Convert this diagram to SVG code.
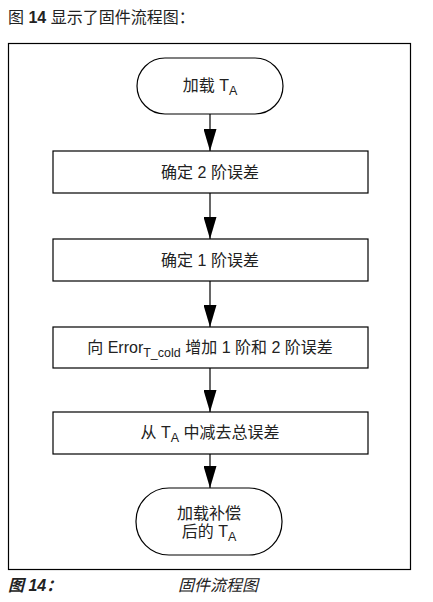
<svg xmlns="http://www.w3.org/2000/svg" width="433" height="602" viewBox="0 0 433 602">
<style>
  .t{font-family:"Liberation Sans","Noto Sans CJK SC",sans-serif;font-size:16px;fill:#222;text-anchor:middle}
  .s{font-size:12.5px}
  .shape{fill:#fff;stroke:#000;stroke-width:1.2}
  .cap{font-family:"Liberation Sans","Noto Sans CJK SC",sans-serif;font-size:16px;fill:#222}
  .edge{stroke:#000;stroke-width:1.2;fill:none}
</style>
<defs>
  <marker id="ah" markerWidth="22" markerHeight="13" refX="22" refY="6.5" orient="auto" markerUnits="userSpaceOnUse" viewBox="0 0 22 13">
    <path d="M0,0 L22,6.5 L0,13 Z" fill="#000"/>
  </marker>
</defs>
<rect width="433" height="602" fill="#fff"/>
<text class="cap" x="8" y="23">图 <tspan font-weight="bold">14</tspan> 显示了固件流程图：</text>
<rect x="8.5" y="43.5" width="402" height="526" fill="none" stroke="#000" stroke-width="1.2"/>
<g id="connectors">
  <line class="edge" x1="210" y1="114" x2="210" y2="151" marker-end="url(#ah)"/>
  <line class="edge" x1="210" y1="193" x2="210" y2="239" marker-end="url(#ah)"/>
  <line class="edge" x1="210" y1="281" x2="210" y2="327" marker-end="url(#ah)"/>
  <line class="edge" x1="210" y1="368" x2="210" y2="412" marker-end="url(#ah)"/>
  <line class="edge" x1="210" y1="454" x2="210" y2="488" marker-end="url(#ah)"/>
</g>
<g id="start">
  <rect class="shape" x="137" y="58" width="146" height="56" rx="28" ry="28"/>
  <text class="t" x="210" y="91">加载 T<tspan class="s" dy="4">A</tspan></text>
</g>
<g id="step1">
  <rect class="shape" x="53" y="151" width="315" height="42"/>
  <text class="t" x="210" y="178">确定 2 阶误差</text>
</g>
<g id="step2">
  <rect class="shape" x="53" y="239" width="315" height="42"/>
  <text class="t" x="210" y="266">确定 1 阶误差</text>
</g>
<g id="step3">
  <rect class="shape" x="53" y="327" width="315" height="41"/>
  <text class="t" x="210" y="353">向 Error<tspan class="s" dy="4">T_cold</tspan><tspan dy="-4"> 增加 1 阶和 2 阶误差</tspan></text>
</g>
<g id="step4">
  <rect class="shape" x="53" y="412" width="315" height="42"/>
  <text class="t" x="210" y="438">从 T<tspan class="s" dy="4">A</tspan><tspan dy="-4"> 中减去总误差</tspan></text>
</g>
<g id="end">
  <rect class="shape" x="136" y="488" width="146" height="67" rx="33" ry="33"/>
  <text class="t" x="209" y="519">加载补偿</text>
  <text class="t" x="209" y="537">后的 T<tspan class="s" dy="4">A</tspan></text>
</g>
<text class="cap" x="8" y="591" font-size="17" font-weight="bold" font-style="italic">图 14：</text>
<text class="cap" x="178" y="591" font-size="18" font-style="italic">固件流程图</text>
</svg>
